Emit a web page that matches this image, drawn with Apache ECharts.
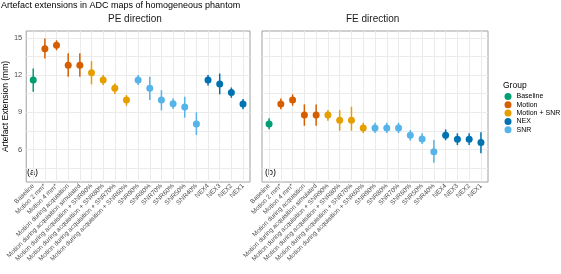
<!DOCTYPE html>
<html>
<head>
<meta charset="utf-8">
<script src="https://cdn.jsdelivr.net/npm/echarts@6/dist/echarts.min.js"></script>
<style>
html, body { margin: 0; padding: 0; background: #fff; }
#chart { width: 561px; height: 274px; }
</style>
</head>
<body>
<div id="chart"></div>
<script>
// categories along the x axis (same for both panels)
const categories = [
	"Baseline",
	"Motion 2 mm*",
	"Motion 4 mm*",
	"Motion during acquisition",
	"Motion during acquisition simulated",
	"Motion during acquisition + SNR90%",
	"Motion during acquisition + SNR80%",
	"Motion during acquisition + SNR70%",
	"Motion during acquisition + SNR60%",
	"SNR90%",
	"SNR80%",
	"SNR70%",
	"SNR60%",
	"SNR50%",
	"SNR40%",
	"NEX4",
	"NEX3",
	"NEX2",
	"NEX1"
];
const groupOf = [
	"Baseline",
	"Motion", "Motion", "Motion", "Motion",
	"Motion + SNR", "Motion + SNR", "Motion + SNR", "Motion + SNR",
	"SNR", "SNR", "SNR", "SNR", "SNR", "SNR",
	"NEX", "NEX", "NEX", "NEX"
];
const groups = ["Baseline", "Motion", "Motion + SNR", "NEX", "SNR"];
const groupColors = ["#009E73", "#D55E00", "#E69F00", "#0072B2", "#56B4E9"];

// PE direction
const peMean = [11.6, 14.12, 14.41, 12.8, 12.8, 12.19, 11.6, 10.93, 9.99, 11.6, 10.93, 9.99, 9.69, 9.42, 8.06, 11.6, 11.28, 10.6, 9.67];
const peLow = [10.66, 13.34, 14.0, 11.86, 11.86, 11.25, 11.2, 10.47, 9.53, 11.2, 9.99, 9.16, 9.26, 8.57, 7.17, 11.17, 10.45, 10.17, 9.24];
const peHigh = [12.54, 14.95, 14.8, 13.75, 13.75, 13.13, 12.0, 11.33, 10.39, 12.0, 11.86, 10.79, 10.12, 10.26, 9.0, 12.0, 12.13, 11.0, 10.07];

// FE direction
const feMean = [8.06, 9.67, 9.99, 8.78, 8.78, 8.78, 8.36, 8.36, 7.74, 7.74, 7.74, 7.74, 7.15, 6.85, 5.83, 7.15, 6.83, 6.83, 6.57];
const feLow = [7.63, 9.24, 9.53, 7.92, 7.92, 8.33, 7.52, 7.52, 7.33, 7.33, 7.33, 7.33, 6.72, 6.45, 4.95, 6.75, 6.37, 6.37, 5.7];
const feHigh = [8.52, 10.12, 10.45, 9.64, 9.64, 9.18, 9.18, 9.45, 8.16, 8.16, 8.16, 8.16, 7.58, 7.31, 6.77, 7.63, 7.31, 7.31, 7.39];

const yLabels = [6, 9, 12, 15];
const yGrid = [4.5, 6, 7.5, 9, 10.5, 12, 13.5, 15];

const font = "Liberation Sans, Arial, sans-serif";
let chart = echarts.init(document.getElementById("chart"));

let xIdx = categories.map(function(c, i) { return i; });
let panels = [
	{ mean: peMean, low: peLow, high: peHigh, left: 24 },
	{ mean: feMean, low: feLow, high: feHigh, left: 262 }
];

let renderPoint = function(params, api) {
	let x = api.value(0);
	let m = api.coord([x, api.value(1)]);
	let lo = api.coord([x, api.value(2)]);
	let hi = api.coord([x, api.value(3)]);
	let color = api.visual("color");
	return {
		type: "group",
		children: [
			{ type: "line", shape: { x1: lo[0], y1: lo[1], x2: hi[0], y2: hi[1] }, style: { stroke: color, lineWidth: 1.5 } },
			{ type: "circle", shape: { cx: m[0], cy: m[1], r: 3.5 }, style: { fill: color } }
		]
	};
};

let series = [];
panels.forEach(function(p, pi) {
	groups.forEach(function(g, gi) {
		let data = [];
		categories.forEach(function(c, i) {
			if (groupOf[i] == g) data.push([i, p.mean[i], p.low[i], p.high[i]]);
		});
		series.push({
			type: "custom",
			name: g,
			xAxisIndex: pi,
			yAxisIndex: pi,
			data: data,
			itemStyle: { color: groupColors[gi] },
			encode: { x: 0, y: [1, 2, 3] },
			renderItem: renderPoint
		});
	});
});

let grids = panels.map(function(p) {
	return { left: p.left, top: 31, width: 226, height: 151, show: true, borderColor: "#a0a0a0", borderWidth: 1 };
});

let xAxes = panels.map(function(p, pi) {
	return {
		type: "value",
		gridIndex: pi,
		min: -0.6,
		max: 18.6,
		axisLine: { show: false },
		axisTick: { show: false, customValues: xIdx },
		splitLine: { show: true, lineStyle: { color: "#ebebeb", width: 1 } },
		axisLabel: {
			customValues: xIdx,
			rotate: 45,
			margin: 3,
			fontSize: 6.5,
			color: "#4d4d4d",
			fontFamily: font,
			formatter: function(v) { return categories[Math.round(v)]; }
		}
	};
});

let yAxes = panels.map(function(p, pi) {
	return {
		type: "value",
		gridIndex: pi,
		min: 3.39,
		max: 15.55,
		name: pi == 0 ? "Artefact Extension (mm)" : "",
		nameLocation: "middle",
		nameGap: 13,
		nameRotate: 90,
		nameTextStyle: { fontSize: 8.5, color: "#000", fontFamily: font },
		axisLine: { show: false },
		axisTick: { show: false, customValues: yGrid },
		splitLine: { show: true, lineStyle: { color: "#ebebeb", width: 1 } },
		axisLabel: {
			show: pi == 0,
			customValues: yLabels,
			margin: 4,
			fontSize: 7.5,
			color: "#4d4d4d",
			fontFamily: font
		}
	};
});

let txt = function(text, left, top, size, color) {
	return { type: "text", left: left, top: top, style: { text: text, fontSize: size, fill: color, fontFamily: font } };
};

let option = {
	animation: false,
	textStyle: { fontFamily: font },
	grid: grids,
	xAxis: xAxes,
	yAxis: yAxes,
	legend: {
		data: groups,
		orient: "vertical",
		left: 504.5,
		top: 92.5,
		padding: 0,
		icon: "circle",
		itemWidth: 7,
		itemHeight: 7,
		itemGap: 0.3,
		textStyle: { fontSize: 7, color: "#000", lineHeight: 8, fontFamily: font }
	},
	graphic: [
		txt("Artefact extensions in ADC maps of homogeneous phantom", 1, 1, 9, "#000"),
		txt("PE direction", 108, 14, 10, "#1a1a1a"),
		txt("FE direction", 346, 14, 10, "#1a1a1a"),
		txt("(a)", 27, 168, 9, "#000"),
		txt("(b)", 265, 168, 9, "#000"),
		txt("Group", 503, 81, 8.5, "#000")
	],
	series: series
};
chart.setOption(option);
</script>
</body>
</html>
